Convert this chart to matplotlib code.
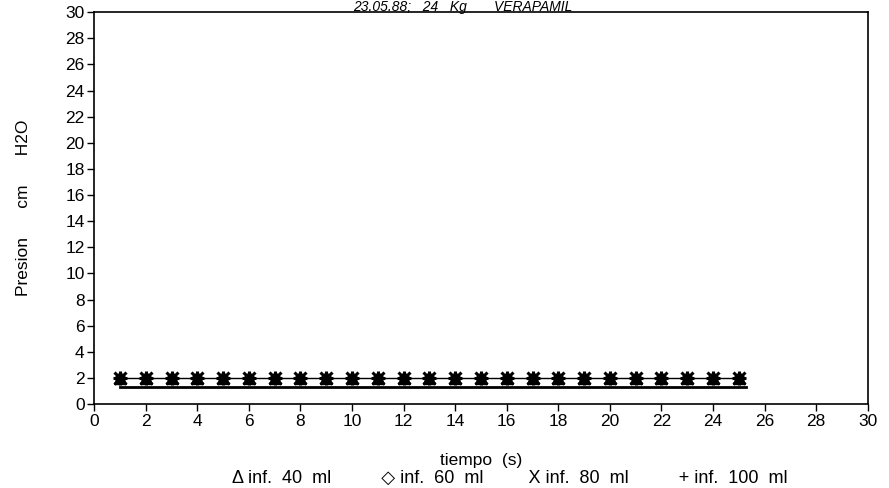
import matplotlib
matplotlib.use("Agg")
import matplotlib.pyplot as plt
import numpy as np

# data
tiempo = list(range(1, 26))
inf_40 = [2] * 25
inf_60 = [2] * 25
inf_80 = [2] * 25
inf_100 = [2] * 25
base_x = [1, 25.3]
base_y = [1.3, 1.3]

title = "23.05.88;   24   Kg       VERAPAMIL"
legend_txt = "\u0394 inf.  40  ml          \u25c7 inf.  60  ml         X inf.  80  ml          + inf.  100  ml"

plt.rcParams['font.family'] = ['Liberation Sans', 'DejaVu Sans']

fig = plt.figure(figsize=(8.89, 4.88), dpi=100)
ax = fig.add_axes([0.106, 0.172, 0.870, 0.803])

# series all sit on top of each other
ax.plot(tiempo, inf_40, color='black', lw=0.8, marker='^', ms=8)
ax.plot(tiempo, inf_60, color='black', lw=0.8, marker='D', ms=6)
ax.plot(tiempo, inf_80, color='black', lw=0.8, marker='x', ms=9, mew=2.2)
ax.plot(tiempo, inf_100, color='black', lw=0.8, marker='+', ms=10, mew=2.2)
ax.plot(base_x, base_y, color='black', lw=2)

ax.set_xlim(0, 30)
ax.set_ylim(0, 30)
ax.set_xticks(np.arange(0, 31, 2))
ax.set_yticks(np.arange(0, 31, 2))
ax.tick_params(labelsize=12.5, length=5, width=1, direction='out', pad=2)
for s in ax.spines.values():
    s.set_linewidth(1.2)

ax.set_xlabel("tiempo  (s)", fontsize=12.5)
ax.xaxis.set_label_coords(0.5, -0.125)
ax.set_ylabel("Presion      cm      H2O", fontsize=12.5)
ax.yaxis.set_label_coords(-0.082, 0.5)

fig.text(0.52, 1.0, title, ha='center', va='top', fontsize=10, style='italic')
fig.text(0.573, 0.02, legend_txt, ha='center', va='center', fontsize=13)

fig.savefig("out.png", dpi=100)
